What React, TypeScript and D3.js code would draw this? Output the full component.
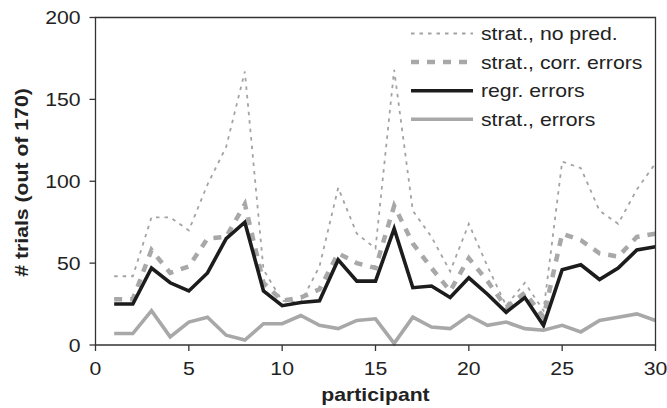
import React from "react";
import * as d3 from "d3";

const participants = d3.range(1, 31);
const noPred = [42, 42, 78, 78, 70, 98, 121, 167, 46, 27, 26, 48, 96, 68, 59, 168, 82, 66, 45, 74, 48, 24, 38, 21, 112, 108, 82, 74, 95, 111];
const corrErrors = [28, 28, 58, 44, 48, 65, 66, 86, 38, 27, 29, 34, 56, 50, 47, 85, 62, 47, 33, 53, 39, 23, 32, 17, 68, 64, 56, 54, 66, 68];
const regrErrors = [25, 25, 47, 38, 33, 44, 65, 75, 33, 24, 26, 27, 52, 39, 39, 71, 35, 36, 29, 41, 31, 20, 29, 12, 46, 49, 40, 47, 58, 60];
const stratErrors = [7, 7, 21, 5, 14, 17, 6, 3, 13, 13, 18, 12, 10, 15, 16, 1, 17, 11, 10, 18, 12, 14, 10, 9, 12, 8, 15, 17, 19, 15];

const xTicks = [0, 5, 10, 15, 20, 25, 30];
const yTicks = [0, 50, 100, 150, 200];
const seriesNames = ["strat., no pred.", "strat., corr. errors", "regr. errors", "strat., errors"];

const W = 667;
const H = 408;
const M = { left: 95.5, right: 655.5, top: 17.5, bottom: 345 };
const FONT = "'Liberation Sans', Arial, sans-serif";
const FS = 18.6;
const SX = 1.14;

const styles = [
  { stroke: "#a3a3a3", width: 1.8, dash: "3.5,5" },
  { stroke: "#a8a8a8", width: 4.5, dash: "8,8" },
  { stroke: "#1c1c1c", width: 3.6, dash: undefined as string | undefined },
  { stroke: "#a8a8a8", width: 3.6, dash: undefined as string | undefined },
];

export default function App() {
  const x = d3.scaleLinear().domain([0, 30]).range([M.left, M.right]);
  const y = d3.scaleLinear().domain([0, 200]).range([M.bottom, M.top]);
  const line = d3
    .line<number>()
    .x((_, i) => x(participants[i]))
    .y((d) => y(d));
  const data = [noPred, corrErrors, regrErrors, stratErrors];
  const legendX1 = 411;
  const legendX2 = 473;
  const legendY0 = 33.5;
  const legendDy = 28.6;

  return (
    <svg
      width={W}
      height={H}
      style={{ position: "absolute", left: 0, top: 0, background: "#fff" }}
      fontFamily={FONT}
    >
      <rect x={0} y={0} width={W} height={H} fill="#fff" />
      {data.map((d, i) => (
        <path
          key={i}
          d={line(d) || ""}
          fill="none"
          stroke={styles[i].stroke}
          strokeWidth={styles[i].width}
          strokeDasharray={styles[i].dash}
          strokeLinejoin="miter"
          strokeLinecap="butt"
        />
      ))}
      <path
        d={`M${M.left},${M.top}H${M.right}V${M.bottom}H${M.left}Z`}
        fill="none"
        stroke="#333"
        strokeWidth={1.3}
      />
      {yTicks.map((t) => (
        <g key={"y" + t}>
          <line x1={M.left - 6} x2={M.left} y1={y(t)} y2={y(t)} stroke="#333" strokeWidth={1.3} />
          <text
            transform={`translate(${M.left - 15},${y(t)}) scale(${SX},1)`}
            dy="0.36em"
            textAnchor="end"
            fontSize={FS}
            fill="#222"
          >
            {t}
          </text>
        </g>
      ))}
      {xTicks.map((t) => (
        <g key={"x" + t}>
          <line x1={x(t)} x2={x(t)} y1={M.bottom} y2={M.bottom + 6} stroke="#333" strokeWidth={1.3} />
          <text
            transform={`translate(${x(t)},375) scale(${SX},1)`}
            textAnchor="middle"
            fontSize={FS}
            fill="#222"
          >
            {t}
          </text>
        </g>
      ))}
      <text
        transform={`translate(${(M.left + M.right) / 2},401) scale(${SX},1)`}
        textAnchor="middle"
        fontSize={FS}
        fontWeight="bold"
        fill="#222"
      >
        participant
      </text>
      <text
        transform={`translate(28,182.5) rotate(-90) scale(${SX},1)`}
        textAnchor="middle"
        fontSize={FS}
        fontWeight="bold"
        fill="#222"
      >
        # trials (out of 170)
      </text>
      {seriesNames.map((name, i) => {
        const ly = legendY0 + i * legendDy;
        return (
          <g key={name}>
            <line
              x1={legendX1}
              x2={legendX2}
              y1={ly}
              y2={ly}
              stroke={styles[i].stroke}
              strokeWidth={styles[i].width}
              strokeDasharray={styles[i].dash}
            />
            <text
              transform={`translate(${legendX2 + 8},${ly}) scale(${SX},1)`}
              dy="0.36em"
              fontSize={FS}
              fill="#222"
            >
              {name}
            </text>
          </g>
        );
      })}
    </svg>
  );
}
